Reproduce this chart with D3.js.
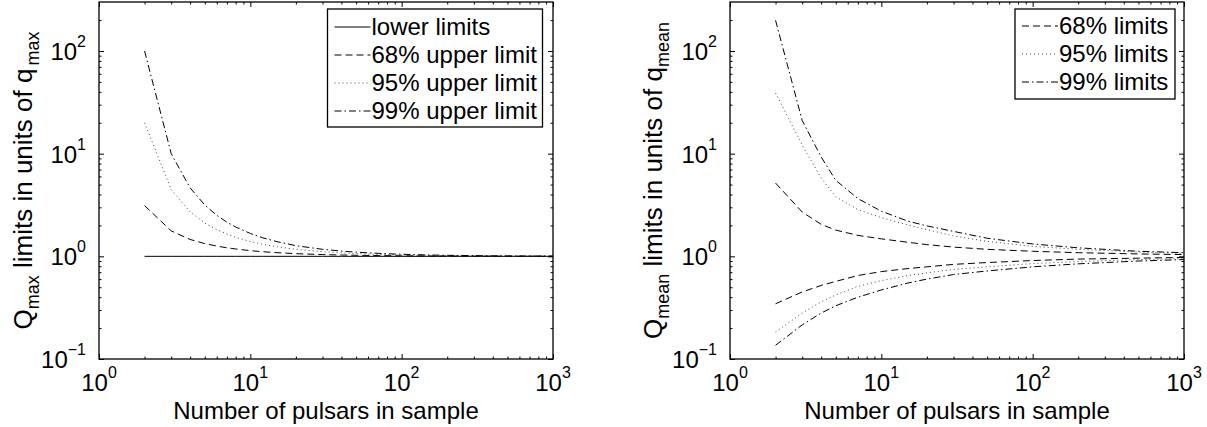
<!DOCTYPE html>
<html>
<head>
<meta charset="utf-8" />
<style>
  body { margin: 0; background: #fff; }
  svg text { font-family: "Liberation Sans", Arial, Helvetica, sans-serif; fill: #000; }
</style>
</head>
<body>
<div id="chart"></div>
<script src="https://d3js.org/d3.v7.min.js"></script>
<script>
// ---- values ----
// left panel: Q_max limits
var nLeft = [2, 3, 4, 5, 6, 7, 8, 10, 12, 15, 20, 30, 40, 50, 70, 100, 150, 200, 300, 500, 700, 1000];
var lowerLeft = [1, 1, 1, 1, 1, 1, 1, 1, 1, 1, 1, 1, 1, 1, 1, 1, 1, 1, 1, 1, 1, 1];
var up68Left = [3.12, 1.77, 1.46, 1.33, 1.26, 1.21, 1.18, 1.135, 1.11, 1.085, 1.062, 1.04, 1.03, 1.024, 1.017, 1.012, 1.008, 1.006, 1.004, 1.002, 1.002, 1.001];
var up95Left = [20, 4.47, 2.71, 2.11, 1.82, 1.65, 1.53, 1.395, 1.31, 1.24, 1.17, 1.11, 1.08, 1.063, 1.044, 1.031, 1.02, 1.015, 1.01, 1.006, 1.004, 1.003];
var up99Left = [100, 10, 4.64, 3.16, 2.51, 2.15, 1.93, 1.67, 1.52, 1.39, 1.27, 1.17, 1.125, 1.098, 1.069, 1.047, 1.031, 1.023, 1.016, 1.009, 1.007, 1.005];

// right panel: Q_mean limits
var nRight = [2, 3, 4, 5, 7, 10, 15, 20, 30, 50, 100, 200, 500, 1000];
var up68Right = [5.17, 2.7, 2.05, 1.8, 1.6, 1.48, 1.37, 1.3, 1.23, 1.17, 1.12, 1.085, 1.055, 1.04];
var lo68Right = [0.345, 0.45, 0.52, 0.57, 0.65, 0.71, 0.76, 0.79, 0.835, 0.87, 0.91, 0.94, 0.96, 0.975];
var up95Right = [39, 12.1, 5.8, 3.8, 2.85, 2.38, 2.02, 1.82, 1.58, 1.4, 1.25, 1.17, 1.1, 1.07];
var lo95Right = [0.183, 0.28, 0.36, 0.42, 0.51, 0.58, 0.65, 0.69, 0.745, 0.79, 0.85, 0.89, 0.93, 0.95];
var up99Right = [199, 21, 9.3, 5.5, 3.65, 2.75, 2.2, 1.98, 1.75, 1.5, 1.32, 1.21, 1.12, 1.085];
var lo99Right = [0.136, 0.215, 0.28, 0.33, 0.4, 0.47, 0.55, 0.6, 0.665, 0.72, 0.79, 0.845, 0.9, 0.93];

var xTicks = [1, 10, 100, 1000];
var yTicks = [0.1, 1, 10, 100];
var tickExp = { 1: "0", 10: "1", 100: "2", 1000: "3", 0.1: "\u22121" };

var legendLeft = ["lower limits", "68% upper limit", "95% upper limit", "99% upper limit"];
var legendRight = ["68% limits", "95% limits", "99% limits"];

// line styles (matlab-ish)
var dash = { solid: null, dashed: "7,4", dotted: "1,3", dashdot: "7,3,1.5,3" };

var svg = d3.select("#chart").append("svg")
  .attr("width", 1207)
  .attr("height", 427);

function minorTicks(lo, hi) {
  var out = [];
  for (var d = lo; d < hi; d *= 10) {
    for (var k = 2; k <= 9; k++) {
      if (k * d < hi) out.push(k * d);
    }
  }
  return out;
}

function drawPanel(p) {
  var x = d3.scaleLog().domain([1, 1000]).range([p.x0, p.x1]);
  var y = d3.scaleLog().domain([0.1, 300]).range([p.y1, p.y0]);
  var g = svg.append("g");

  var xMinor = minorTicks(1, 1000);
  var yMinor = minorTicks(0.1, 300);

  // ticks inward on all four sides
  function ax(axis, tr, vals, size) {
    g.append("g")
      .attr("transform", tr)
      .call(axis.tickValues(vals).tickSize(-size).tickFormat(""))
      .call(function (s) { s.select(".domain").remove(); })
      .selectAll("line").attr("stroke", "#000");
  }
  ax(d3.axisBottom(x), "translate(0," + p.y1 + ")", xTicks, 5);
  ax(d3.axisBottom(x), "translate(0," + p.y1 + ")", xMinor, 2.5);
  ax(d3.axisTop(x), "translate(0," + p.y0 + ")", xTicks, 5);
  ax(d3.axisTop(x), "translate(0," + p.y0 + ")", xMinor, 2.5);
  ax(d3.axisLeft(y), "translate(" + p.x0 + ",0)", yTicks, 5);
  ax(d3.axisLeft(y), "translate(" + p.x0 + ",0)", yMinor, 2.5);
  ax(d3.axisRight(y), "translate(" + p.x1 + ",0)", yTicks, 5);
  ax(d3.axisRight(y), "translate(" + p.x1 + ",0)", yMinor, 2.5);

  g.append("rect")
    .attr("x", p.x0).attr("y", p.y0)
    .attr("width", p.x1 - p.x0).attr("height", p.y1 - p.y0)
    .attr("fill", "none").attr("stroke", "#000").attr("stroke-width", 1.3);

  // tick labels 10^k
  xTicks.forEach(function (v) {
    var t = g.append("text")
      .attr("x", x(v)).attr("y", p.y1 + 32)
      .attr("text-anchor", "middle")
      .style("font-size", "24px");
    t.append("tspan").text("10");
    t.append("tspan").attr("dy", -13).style("font-size", "16px").text(tickExp[v]);
  });
  yTicks.forEach(function (v) {
    var t = g.append("text")
      .attr("x", p.x0 - 13).attr("y", y(v) + 9)
      .attr("text-anchor", "end")
      .style("font-size", "24px");
    t.append("tspan").text("10");
    t.append("tspan").attr("dy", -13).style("font-size", "16px").text(tickExp[v]);
  });

  // axis titles
  g.append("text")
    .attr("x", (p.x0 + p.x1) / 2).attr("y", 419)
    .attr("text-anchor", "middle")
    .style("font-size", "24px")
    .text("Number of pulsars in sample");

  var yl = g.append("text")
    .attr("transform", "translate(" + p.labelX + "," + ((p.y0 + p.y1) / 2) + ") rotate(-90)")
    .attr("text-anchor", "middle")
    .style("font-size", "26px");
  yl.append("tspan").text("Q");
  yl.append("tspan").attr("dy", 7).style("font-size", "18px").text(p.sub);
  yl.append("tspan").attr("dy", -7).text(" limits in units of q");
  yl.append("tspan").attr("dy", 7).attr("dx", p.subGap).style("font-size", "18px").text(p.sub);

  // curves
  var line = d3.line()
    .x(function (d) { return x(d[0]); })
    .y(function (d) { return y(d[1]); });

  p.series.forEach(function (s) {
    g.append("path")
      .datum(d3.zip(p.n, s.values))
      .attr("d", line)
      .attr("fill", "none")
      .attr("stroke", s.color || "#000")
      .attr("stroke-width", 1)
      .attr("stroke-dasharray", dash[s.style]);
  });

  // legend
  var L = p.legend;
  g.append("rect")
    .attr("x", L.x).attr("y", L.y).attr("width", L.w).attr("height", L.h)
    .attr("fill", "#fff").attr("stroke", "#000").attr("stroke-width", 1.3);
  L.items.forEach(function (it, i) {
    var by = L.base + i * 28;
    g.append("line")
      .attr("x1", L.x + 7).attr("x2", L.x + 43)
      .attr("y1", by - 8).attr("y2", by - 8)
      .attr("stroke", it.color || "#000").attr("stroke-width", 1)
      .attr("stroke-dasharray", dash[it.style]);
    g.append("text")
      .attr("x", L.x + 44).attr("y", by)
      .style("font-size", "24px")
      .text(it.label);
  });
}

drawPanel({
  x0: 99, x1: 553, y0: 2, y1: 359, labelX: 32, sub: "max", subGap: 3,
  n: nLeft,
  series: [
    { values: lowerLeft, style: "solid" },
    { values: up68Left, style: "dashed" },
    { values: up95Left, style: "dotted", color: "#444" },
    { values: up99Left, style: "dashdot" }
  ],
  legend: {
    x: 327.5, y: 9, w: 215, h: 118, base: 35,
    items: [
      { label: legendLeft[0], style: "solid" },
      { label: legendLeft[1], style: "dashed" },
      { label: legendLeft[2], style: "dotted", color: "#444" },
      { label: legendLeft[3], style: "dashdot" }
    ]
  }
});

drawPanel({
  x0: 730, x1: 1184, y0: 2, y1: 359, labelX: 662, sub: "mean", subGap: 0,
  n: nRight,
  series: [
    { values: up68Right, style: "dashed" },
    { values: lo68Right, style: "dashed" },
    { values: up95Right, style: "dotted", color: "#444" },
    { values: lo95Right, style: "dotted", color: "#444" },
    { values: up99Right, style: "dashdot" },
    { values: lo99Right, style: "dashdot" }
  ],
  legend: {
    x: 1015, y: 9, w: 160, h: 90, base: 34,
    items: [
      { label: legendRight[0], style: "dashed" },
      { label: legendRight[1], style: "dotted", color: "#444" },
      { label: legendRight[2], style: "dashdot" }
    ]
  }
});
</script>
</body>
</html>
